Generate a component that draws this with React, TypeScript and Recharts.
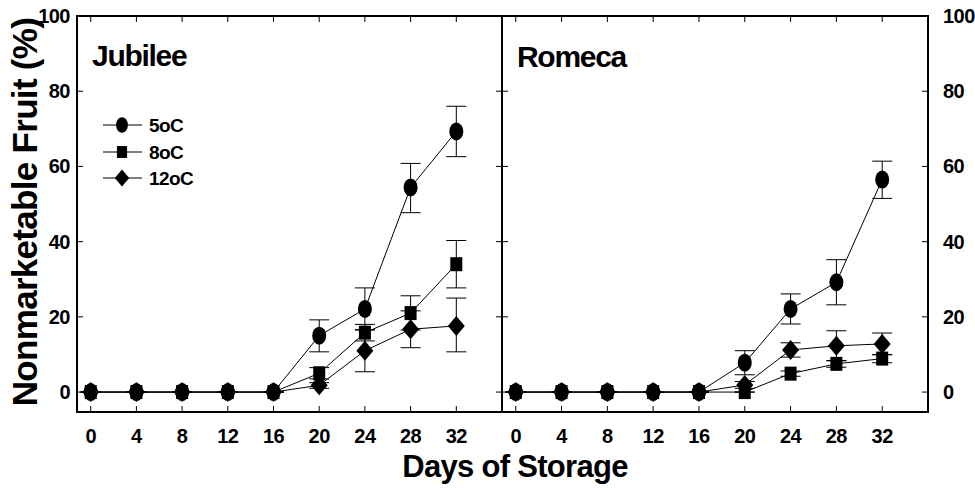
import { LineChart, Line, XAxis, YAxis, ErrorBar, ReferenceArea } from "recharts"

const days = [0, 4, 8, 12, 16, 20, 24, 28, 32]
const xTicks = [0, 4, 8, 12, 16, 20, 24, 28, 32]
const yTicks = [0, 20, 40, 60, 80, 100]
const seriesNames = ["5oC", "8oC", "12oC"]

// Jubilee: mean, upper bound, lower bound
const jubilee5 = [0, 0, 0, 0, 0, 15, 22.1, 54.4, 69.3]
const jubilee5Hi = [0, 0, 0, 0, 0, 19.2, 27.7, 60.8, 76]
const jubilee5Lo = [0, 0, 0, 0, 0, 10.7, 16.5, 47.7, 62.6]
const jubilee8 = [0, 0, 0, 0, 0, 5, 15.8, 21, 34]
const jubilee8Hi = [0, 0, 0, 0, 0, 6.5, 18, 25.6, 40.3]
const jubilee8Lo = [0, 0, 0, 0, 0, 3.5, 13.6, 16.5, 27.7]
const jubilee12 = [0, 0, 0, 0, 0, 1.8, 11, 16.7, 17.6]
const jubilee12Hi = [0, 0, 0, 0, 0, 2.5, 16.6, 21.6, 25]
const jubilee12Lo = [0, 0, 0, 0, 0, 1, 5.4, 11.8, 10.7]

// Romeca
const romeca5 = [0, 0, 0, 0, 0, 7.8, 22.1, 29.2, 56.5]
const romeca5Hi = [0, 0, 0, 0, 0, 11, 26.1, 35.2, 61.4]
const romeca5Lo = [0, 0, 0, 0, 0, 4.6, 18.1, 23.2, 51.5]
const romeca8 = [0, 0, 0, 0, 0, 0, 4.9, 7.5, 8.9]
const romeca8Hi = [0, 0, 0, 0, 0, 0, 5.6, 8.4, 10]
const romeca8Lo = [0, 0, 0, 0, 0, 0, 4.2, 6.6, 7.8]
const romeca12 = [0, 0, 0, 0, 0, 1.9, 11.2, 12.3, 12.8]
const romeca12Hi = [0, 0, 0, 0, 0, 2.8, 13.1, 16.3, 15.7]
const romeca12Lo = [0, 0, 0, 0, 0, 1, 9.3, 8.3, 9.9]

const err = (v: number[], hi: number[], lo: number[], i: number) => [v[i] - lo[i], hi[i] - v[i]]

const jubileeData = days.map((d, i) => ({
  day: d,
  s5: jubilee5[i], e5: err(jubilee5, jubilee5Hi, jubilee5Lo, i),
  s8: jubilee8[i], e8: err(jubilee8, jubilee8Hi, jubilee8Lo, i),
  s12: jubilee12[i], e12: err(jubilee12, jubilee12Hi, jubilee12Lo, i),
}))

const romecaData = days.map((d, i) => ({
  day: d,
  s5: romeca5[i], e5: err(romeca5, romeca5Hi, romeca5Lo, i),
  s8: romeca8[i], e8: err(romeca8, romeca8Hi, romeca8Lo, i),
  s12: romeca12[i], e12: err(romeca12, romeca12Hi, romeca12Lo, i),
}))

const FONT = "'Liberation Sans', Arial, sans-serif"
const xDomain = [-1.2, 36]
const yDomain = [-5.3, 100]
const labelStyle = { fontSize: 20, fontWeight: 700, fill: "#000", fontFamily: FONT, letterSpacing: -0.5 }
const TICK = 6

// inward tick marks, drawn with the label (tickSize/tickMargin are 0 so x/y sit on the axis)
const BottomTick = ({ x, y, payload }: any) => (
  <g>
    <line x1={x} x2={x} y1={y} y2={y - TICK} stroke="#000" strokeWidth={1} />
    <text x={x} y={y + 31} textAnchor="middle" style={labelStyle}>{payload.value}</text>
  </g>
)
const TopTick = ({ x, y }: any) => <line x1={x} x2={x} y1={y} y2={y + TICK} stroke="#000" strokeWidth={1} />
const LeftTick = ({ x, y, payload, label }: any) => (
  <g>
    <line x1={x} x2={x + TICK} y1={y} y2={y} stroke="#000" strokeWidth={1} />
    {label && <text x={x - 7} y={y + 7} textAnchor="end" style={labelStyle}>{payload.value}</text>}
  </g>
)
const RightTick = ({ x, y, payload, label }: any) => (
  <g>
    <line x1={x} x2={x - TICK} y1={y} y2={y} stroke="#000" strokeWidth={1} />
    {label && <text x={x + 15} y={y + 7} textAnchor="start" style={labelStyle}>{payload.value}</text>}
  </g>
)

const Circle = ({ cx, cy, s = 1 }: any) => <ellipse cx={cx} cy={cy} rx={7 * s} ry={9 * s} fill="#000" />
const Square = ({ cx, cy, s = 1 }: any) => <rect x={cx - 6 * s} y={cy - 7 * s} width={12 * s} height={14 * s} fill="#000" />
const Diamond = ({ cx, cy, s = 1 }: any) => (
  <polygon points={`${cx},${cy - 10 * s} ${cx + 8.5 * s},${cy} ${cx},${cy + 10 * s} ${cx - 8.5 * s},${cy}`} fill="#000" />
)
const shapes = [Circle, Square, Diamond]

function Panel({ data, side }: { data: any[]; side: "left" | "right" }) {
  const isLeft = side === "left"
  const width = isLeft ? 504 : 475
  const margin = isLeft ? { top: 15, right: 1, left: 0, bottom: 49 } : { top: 15, right: 0, left: 1, bottom: 49 }
  const keys = ["5", "8", "12"]
  return (
    <LineChart width={width} height={491} data={data} margin={margin}>
      <XAxis xAxisId="b" dataKey="day" type="number" domain={xDomain} ticks={xTicks} allowDataOverflow
        orientation="bottom" height={30} axisLine={false} tickLine={false} tickSize={0} tickMargin={0}
        tick={(p: any) => <BottomTick {...p} />} interval={0} />
      <XAxis xAxisId="t" dataKey="day" type="number" domain={xDomain} ticks={xTicks} allowDataOverflow
        orientation="top" height={1} axisLine={false} tickLine={false} tickSize={0} tickMargin={0}
        tick={(p: any) => <TopTick {...p} />} interval={0} />
      <YAxis yAxisId="l" type="number" domain={yDomain} ticks={yTicks} allowDataOverflow orientation="left"
        width={isLeft ? 77 : 1} axisLine={false} tickLine={false} tickSize={0} tickMargin={0}
        tick={(p: any) => <LeftTick {...p} label={isLeft} />} interval={0} />
      <YAxis yAxisId="r" type="number" domain={yDomain} ticks={yTicks} allowDataOverflow orientation="right"
        width={isLeft ? 1 : 47} axisLine={false} tickLine={false} tickSize={0} tickMargin={0}
        tick={(p: any) => <RightTick {...p} label={!isLeft} />} interval={0} />
      <ReferenceArea xAxisId="b" yAxisId="l" x1={xDomain[0]} x2={xDomain[1]} y1={yDomain[0]} y2={yDomain[1]}
        fill="none" fillOpacity={0} stroke="#000" strokeWidth={2} strokeOpacity={1} ifOverflow="visible" />
      {keys.map((k, i) => {
        const Shape = shapes[i]
        return (
          <Line key={k} xAxisId="b" yAxisId="l" dataKey={`s${k}`} stroke="#000" strokeWidth={1}
            isAnimationActive={false} activeDot={false}
            dot={(p: any) => <Shape key={`${k}-${p.index}`} cx={p.cx} cy={p.cy} />}>
            <ErrorBar dataKey={`e${k}`} width={10} strokeWidth={1} stroke="#000" direction="y" />
          </Line>
        )
      })}
    </LineChart>
  )
}

export default function App() {
  const legendRows = [125, 152, 178]
  return (
    <div style={{ position: "absolute", left: 0, top: 0, width: 975, height: 491, background: "#fff" }}>
      <div style={{ position: "absolute", left: 0, top: 0 }}>
        <Panel data={jubileeData} side="left" />
      </div>
      <div style={{ position: "absolute", left: 500, top: 0 }}>
        <Panel data={romecaData} side="right" />
      </div>
      <svg width={975} height={491} style={{ position: "absolute", left: 0, top: 0, pointerEvents: "none" }}
        fontFamily={FONT} fontWeight={700}>
        <text x={92} y={66} fontSize={30} letterSpacing={-1.3}>Jubilee</text>
        <text x={517} y={67} fontSize={30} letterSpacing={-1.3}>Romeca</text>
        {seriesNames.map((name, i) => {
          const Shape = shapes[i]
          const y = legendRows[i]
          return (
            <g key={name}>
              <line x1={103} x2={142} y1={y} y2={y} stroke="#000" strokeWidth={1} />
              <Shape cx={122} cy={y} s={0.85} />
              <text x={149} y={y + 7} fontSize={19} letterSpacing={-0.6}>{name}</text>
            </g>
          )
        })}
        <text transform="translate(37,212) rotate(-90)" textAnchor="middle" fontSize={35} letterSpacing={-0.7}>
          Nonmarketable Fruit (%)
        </text>
        <text x={515} y={477} textAnchor="middle" fontSize={31} letterSpacing={-0.7}>Days of Storage</text>
      </svg>
    </div>
  )
}
